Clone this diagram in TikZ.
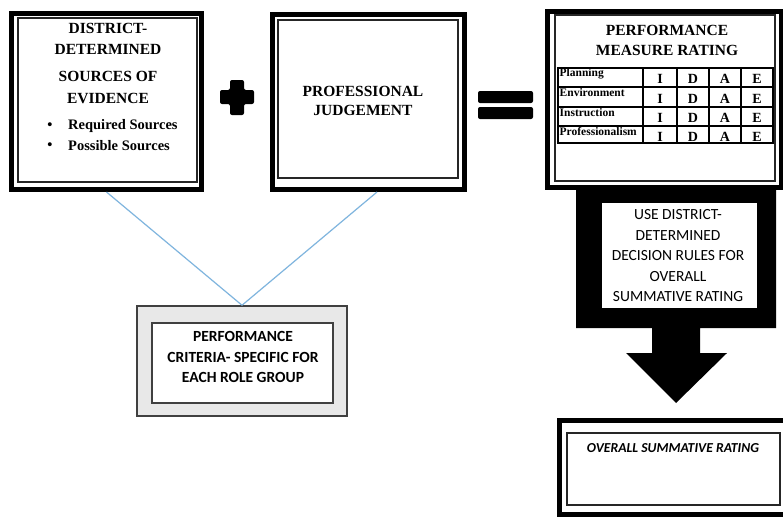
\documentclass[tikz,border=0pt]{standalone}
\usepackage{fontspec}
\setmainfont{Liberation Serif}
\newfontfamily\calfont{Carlito}
\definecolor{linkblue}{HTML}{7FB5DE}
\definecolor{critgray}{HTML}{E8E8E8}
\begin{document}
\begin{tikzpicture}[x=1pt,y=-1pt,
  outerbox/.style={draw=black,line width=5pt,fill=white,inner sep=0pt},
  innerbox/.style={draw=black!85,line width=1.3pt,inner sep=0pt},
  serifttl/.style={font=\bfseries\fontsize{15.5}{17}\selectfont,inner sep=0pt},
  bullettxt/.style={font=\bfseries\fontsize{14.5}{17}\selectfont,inner sep=0pt},
  rowlbl/.style={font=\bfseries\fontsize{11.5}{12}\selectfont,inner sep=0pt,anchor=west},
  letter/.style={font=\bfseries\fontsize{14}{15}\selectfont,inner sep=0pt},
  caltxt/.style={font=\calfont\fontsize{15.5}{20.5}\selectfont,align=center,inner sep=0pt},
  link/.style={draw=linkblue,line width=1.2pt}]
\useasboundingbox (0,0) rectangle (783,517);
\clip (0,0) rectangle (783,517);
\fill[white] (0,0) rectangle (783,517);

% Box 1
\node[outerbox,minimum width=190,minimum height=176] (b1) at (106.5,101.5) {};
\node[innerbox,minimum width=179,minimum height=164] (b1in) at (107.5,100) {};
\node[serifttl] (t1a) at (108,28) {DISTRICT-};
\node[serifttl] (t1b) at (108,49) {DETERMINED};
\node[serifttl] (t1c) at (108,76) {SOURCES OF};
\node[serifttl] (t1d) at (108,98) {EVIDENCE};
\node[bullettxt] (bu1) at (50,126) {•};
\node[bullettxt,anchor=west] (t1e) at (68,126) {Required Sources};
\node[bullettxt] (bu2) at (50,146) {•};
\node[bullettxt,anchor=west] (t1f) at (68,146) {Possible Sources};

% Plus
\fill[black,rounded corners=2] (230,80) -- (244,80) -- (244,90) -- (254,90) -- (254,104) -- (244,104) -- (244,115) -- (230,115) -- (230,104) -- (220,104) -- (220,90) -- (230,90) -- cycle;

% Box 2
\node[outerbox,minimum width=192,minimum height=175] (b2) at (368.5,102) {};
\node[innerbox,minimum width=180,minimum height=158] (b2in) at (368,99) {};
\node[serifttl] (t2a) at (363,91) {PROFESSIONAL};
\node[serifttl] (t2b) at (363,110) {JUDGEMENT};

% Equals
\fill[black,rounded corners=2] (478,91) rectangle (533,103);
\fill[black,rounded corners=2] (478,107) rectangle (533,119);

% Box 3
\node[outerbox,minimum width=234,minimum height=176] (b3) at (664.5,99.5) {};
\node[innerbox,minimum width=220,minimum height=166] (b3in) at (665,98) {};
\node[serifttl] (t3a) at (667,30) {PERFORMANCE};
\node[serifttl] (t3b) at (667,50) {MEASURE RATING};
\draw[line width=1.3pt] (558,68) rectangle (773,143);
\foreach \y in {87,107,126} \draw[line width=1.3pt] (558,\y) -- (773,\y);
\foreach \x in {643,677,709,741} \draw[line width=1.3pt] (\x,68) -- (\x,143);
\node[rowlbl] (r1) at (559.5,74) {Planning};
\node[rowlbl] (r2) at (559.5,93) {Environment};
\node[rowlbl] (r3) at (559.5,113) {Instruction};
\node[rowlbl] (r4) at (559.5,132) {Professionalism};
\foreach \y [count=\r] in {79,99,118,137}
  \foreach \x/\l in {660/I,693/D,725/A,757/E}
    \node[letter] (c\r\l) at (\x,\y) {\l};

% Callout arrow
\fill[black] (576,190) -- (776,190) -- (776,328) -- (700,328) -- (700,353) -- (727,353) -- (676,403) -- (626,353) -- (652,353) -- (652,328) -- (576,328) -- cycle;
\fill[white] (602,203) rectangle (757,308);
\node[caltxt] (dec) at (678,256) {USE DISTRICT-\\DETERMINED\\DECISION RULES FOR\\OVERALL\\SUMMATIVE RATING};

% Bottom box
\node[outerbox,minimum width=230.5,minimum height=94] (b4) at (674.75,467.5) {};
\node[innerbox,minimum width=213,minimum height=72] (b4in) at (673.5,469) {};
\node[font=\calfont\bfseries\itshape\fontsize{13.7}{15}\selectfont,inner sep=0pt] (t4) at (673,448) {OVERALL SUMMATIVE RATING};

% Criteria box
\node[draw=black!75,line width=1.5pt,fill=critgray,minimum width=210,minimum height=110,inner sep=0pt] (crit) at (242,361) {};
\node[draw=black!75,line width=1.5pt,fill=white,minimum width=181,minimum height=80,inner sep=0pt] (critin) at (242.5,363) {};
\node[caltxt,font=\calfont\bfseries\fontsize{15.5}{20.5}\selectfont] (ct) at (243,357) {PERFORMANCE\\CRITERIA- SPECIFIC FOR\\EACH ROLE GROUP};

% Links
\draw[link] (b1.south) -- (crit.north);
\draw[link] ([xshift=8.5]b2.south) -- (crit.north);
\end{tikzpicture}
\end{document}
